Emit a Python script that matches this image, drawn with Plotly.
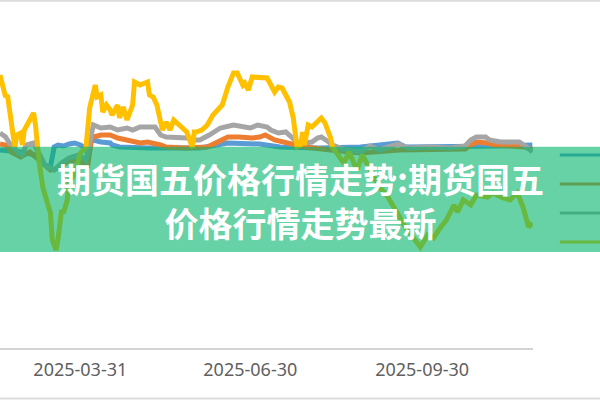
import plotly.graph_objects as go

# 期货国五 price series

yellow_dates = [
    '2025-02-16', '2025-02-18', '2025-02-19', '2025-02-20', '2025-02-21', '2025-02-23', '2025-02-24',
    '2025-02-25', '2025-02-27', '2025-02-28', '2025-03-01', '2025-03-04', '2025-03-06', '2025-03-07',
    '2025-03-08', '2025-03-09', '2025-03-11', '2025-03-15', '2025-03-16', '2025-03-18', '2025-03-19',
    '2025-03-21', '2025-03-22', '2025-03-24', '2025-03-25', '2025-03-27', '2025-03-29', '2025-03-31',
    '2025-04-03', '2025-04-05', '2025-04-08', '2025-04-09', '2025-04-11', '2025-04-12', '2025-04-14',
    '2025-04-16', '2025-04-17', '2025-04-20', '2025-04-21', '2025-04-23', '2025-04-25', '2025-04-28',
    '2025-04-29', '2025-05-02', '2025-05-06', '2025-05-07', '2025-05-09', '2025-05-11', '2025-05-13',
    '2025-05-14', '2025-05-16', '2025-05-18', '2025-05-20', '2025-05-22', '2025-05-24', '2025-05-27',
    '2025-05-29', '2025-05-30', '2025-05-31', '2025-06-01', '2025-06-04', '2025-06-07', '2025-06-10',
    '2025-06-13', '2025-06-15', '2025-06-18', '2025-06-21', '2025-06-23', '2025-06-26', '2025-06-27',
    '2025-06-29', '2025-07-01', '2025-07-05', '2025-07-09', '2025-07-11', '2025-07-13', '2025-07-15',
    '2025-07-17', '2025-07-19', '2025-07-21', '2025-07-23', '2025-07-25', '2025-07-27', '2025-07-28',
    '2025-07-29', '2025-07-31', '2025-08-02', '2025-08-04', '2025-08-07', '2025-08-09', '2025-08-12',
    '2025-08-13', '2025-08-19', '2025-08-22', '2025-08-26', '2025-08-29', '2025-09-04', '2025-09-07',
    '2025-09-11', '2025-09-14', '2025-09-18', '2025-09-22', '2025-09-25', '2025-09-29', '2025-10-03',
    '2025-10-06', '2025-10-10', '2025-10-13', '2025-10-17', '2025-10-19', '2025-10-22', '2025-10-26',
    '2025-10-29', '2025-11-04', '2025-11-07', '2025-11-11', '2025-11-16', '2025-11-20', '2025-11-23',
    '2025-11-26', '2025-11-28',
]
yellow_vals = [
    2730, 2600, 2510, 2530, 2360, 2130, 2010,
    2130, 2150, 2030, 2180, 2280, 2350, 2230,
    2000, 1850, 1600, 1350, 1080, 980, 1080,
    1380, 1350, 1480, 1680, 1710, 1810, 1950,
    2000, 2400, 2630, 2510, 2530, 2360, 2430,
    2380, 2330, 2430, 2300, 2410, 2280, 2430,
    2660, 2630, 2660, 2530, 2510, 2430, 2260,
    2180, 2260, 2180, 2280, 2250, 2210, 2160,
    2060, 2000, 2160, 2160, 2180, 2230, 2330,
    2400, 2430, 2610, 2750, 2750, 2630, 2650,
    2580, 2710, 2710, 2700, 2630, 2560, 2610,
    2600, 2530, 2460, 2300, 2010, 2030, 2160,
    2030, 2230, 2210, 2250, 2300, 2250, 2100,
    2010, 1850, 1960, 1780, 1930, 1710, 1610,
    1530, 1430, 1300, 1180, 1110, 1010, 1130,
    1100, 1210, 1280, 1430, 1360, 1480, 1430,
    1530, 1510, 1550, 1510, 1480, 1550, 1410,
    1210, 1250,
]

gray_dates = [
    '2025-02-16', '2025-02-19', '2025-02-21', '2025-02-23', '2025-02-26', '2025-02-28', '2025-03-02',
    '2025-03-06', '2025-03-08', '2025-03-12', '2025-03-17', '2025-03-21', '2025-03-25', '2025-03-30',
    '2025-04-03', '2025-04-04', '2025-04-07', '2025-04-11', '2025-04-16', '2025-04-20', '2025-04-25',
    '2025-04-28', '2025-05-02', '2025-05-10', '2025-05-13', '2025-05-16', '2025-05-22', '2025-05-27',
    '2025-05-30', '2025-06-03', '2025-06-08', '2025-06-14', '2025-06-21', '2025-06-26', '2025-06-30',
    '2025-07-04', '2025-07-09', '2025-07-11', '2025-07-15', '2025-07-19', '2025-07-22', '2025-07-25',
    '2025-07-29', '2025-08-02', '2025-08-05', '2025-08-07', '2025-08-11', '2025-08-13', '2025-08-20',
    '2025-08-28', '2025-09-02', '2025-09-07', '2025-09-17', '2025-09-23', '2025-10-04', '2025-10-15',
    '2025-10-23', '2025-10-26', '2025-10-29', '2025-11-03', '2025-11-05', '2025-11-11', '2025-11-16',
    '2025-11-21', '2025-11-25', '2025-11-28',
]
gray_vals = [
    2150, 2110, 2050, 2010, 1950, 1930, 2030,
    2050, 1980, 1830, 1780, 1850, 1900, 1930,
    1880, 1980, 2230, 2200, 2210, 2180, 2200,
    2180, 2210, 2210, 2130, 2110, 2110, 2100,
    2080, 2080, 2130, 2200, 2230, 2210, 2200,
    2230, 2210, 2180, 2150, 2160, 2110, 2060,
    2050, 2060, 2100, 2110, 2060, 2030, 1980,
    1960, 2020, 1980, 2040, 2000, 2010, 2000,
    2020, 2080, 2110, 2110, 2080, 2060, 2060,
    2060, 2010, 1960,
]

orange_dates = [
    '2025-02-16', '2025-02-19', '2025-02-20', '2025-02-22', '2025-02-27', '2025-03-04', '2025-03-09',
    '2025-03-15', '2025-03-20', '2025-03-25', '2025-03-31', '2025-04-04', '2025-04-06', '2025-04-07',
    '2025-04-11', '2025-04-16', '2025-04-20', '2025-04-25', '2025-05-02', '2025-05-06', '2025-05-09',
    '2025-05-13', '2025-05-16', '2025-05-26', '2025-06-07', '2025-06-12', '2025-06-18', '2025-06-24',
    '2025-07-01', '2025-07-05', '2025-07-08', '2025-07-13', '2025-07-19', '2025-07-24', '2025-07-29',
    '2025-08-12', '2025-08-28', '2025-09-18', '2025-10-10', '2025-10-23', '2025-10-26', '2025-10-29',
    '2025-11-04', '2025-11-08', '2025-11-16', '2025-11-24', '2025-11-28',
]
orange_vals = [
    2040, 2030, 2010, 1960, 1910, 1960, 1880,
    1780, 1800, 1880, 1860, 1830, 2080, 2110,
    2130, 2130, 2100, 2080, 2050, 2060, 2050,
    2030, 2010, 2000, 2010, 2050, 2110, 2110,
    2100, 2110, 2130, 2080, 2050, 2030, 2010,
    1980, 1950, 1980, 1980, 1990, 2030, 2060,
    2050, 2030, 2020, 2010, 1980,
]

blue_dates = [
    '2025-02-16', '2025-02-27', '2025-03-07', '2025-03-12', '2025-03-15', '2025-03-17', '2025-03-19',
    '2025-03-22', '2025-03-25', '2025-03-28', '2025-03-31', '2025-04-03', '2025-04-05', '2025-04-07',
    '2025-04-11', '2025-04-16', '2025-04-17', '2025-04-21', '2025-05-07', '2025-06-03', '2025-06-18',
    '2025-06-23', '2025-07-05', '2025-07-16', '2025-08-06', '2025-08-28', '2025-09-17', '2025-09-21',
    '2025-10-15', '2025-11-11', '2025-11-28',
]
blue_vals = [
    1980, 1960, 1930, 1830, 1810, 2010, 2030,
    2020, 2040, 2050, 2030, 2000, 2050, 2080,
    2060, 2050, 2030, 2010, 2000, 2000, 2050,
    2050, 2040, 2010, 2000, 2010, 2050, 2010,
    2010, 2020, 2030,
]

tick_dates = ['2025-03-31', '2025-06-30', '2025-09-30']

title_text = '期货国五价格行情走势:期货国五<br>价格行情走势最新'

colors = {'blue': '#5B9BD5', 'orange': '#ED7D31', 'gray': '#A5A5A5', 'yellow': '#FFC000'}

series = [
    ('blue', blue_dates, blue_vals),
    ('orange', orange_dates, orange_vals),
    ('gray', gray_dates, gray_vals),
    ('yellow', yellow_dates, yellow_vals),
]

fig = go.Figure()
for name, xs, ys in series:
    fig.add_trace(go.Scatter(x=xs, y=ys, mode='lines', name=name,
                             line=dict(color=colors[name], width=5),
                             showlegend=False))

shapes = []
# frame lines at very top and bottom of the picture
shapes.append(dict(type='line', xref='paper', yref='paper', x0=0, x1=1, y0=0.998, y1=0.998,
                   line=dict(color='#dcdcdc', width=2), layer='above'))
shapes.append(dict(type='line', xref='paper', yref='paper', x0=0, x1=1, y0=0.004, y1=0.004,
                   line=dict(color='#dcdcdc', width=2), layer='above'))
# legend swatches on the right (cut off), under the banner
for i, name in enumerate(['blue', 'orange', 'gray', 'yellow']):
    yy = 1 - (155 + i * 29) / 400
    shapes.append(dict(type='line', xref='paper', yref='paper', x0=0.933, x1=1.02, y0=yy, y1=yy,
                       line=dict(color=colors[name], width=3), layer='above'))
# banner
shapes.append(dict(type='rect', xref='paper', yref='paper', x0=-0.01, x1=1.01, y0=0.37, y1=0.633,
                   fillcolor='rgba(2,180,107,0.6)', line=dict(width=0), layer='above'))

fig.update_layout(
    width=600, height=400,
    margin=dict(l=0, r=0, t=0, b=0),
    paper_bgcolor='white', plot_bgcolor='white',
    shapes=shapes,
    hovermode=False,
    xaxis=dict(domain=[0, 0.8883], range=['2025-02-16', '2025-11-28 08:00'],
               tickvals=tick_dates, ticktext=tick_dates, showgrid=False, zeroline=False,
               showline=True, linecolor='#d4d4d4', linewidth=2, ticks='',
               ticklabelstandoff=4,
               tickfont=dict(family='Noto Sans', size=18, color='#606060')),
    yaxis=dict(domain=[0.13, 1], range=[0, 3480], showgrid=False, zeroline=False,
               showticklabels=False, showline=False),
    annotations=[dict(text='<b>' + title_text + '</b>', xref='paper', yref='paper',
                      x=0.5, y=0.5, xanchor='center', yanchor='middle', showarrow=False,
                      font=dict(family='Noto Sans CJK SC', size=34, color='white'))],
)

# drop the page's default body margin so the figure sits at the window corner
fig.write_html('out.html', config={'displayModeBar': False},
               post_script="document.body.style.margin='0';")
